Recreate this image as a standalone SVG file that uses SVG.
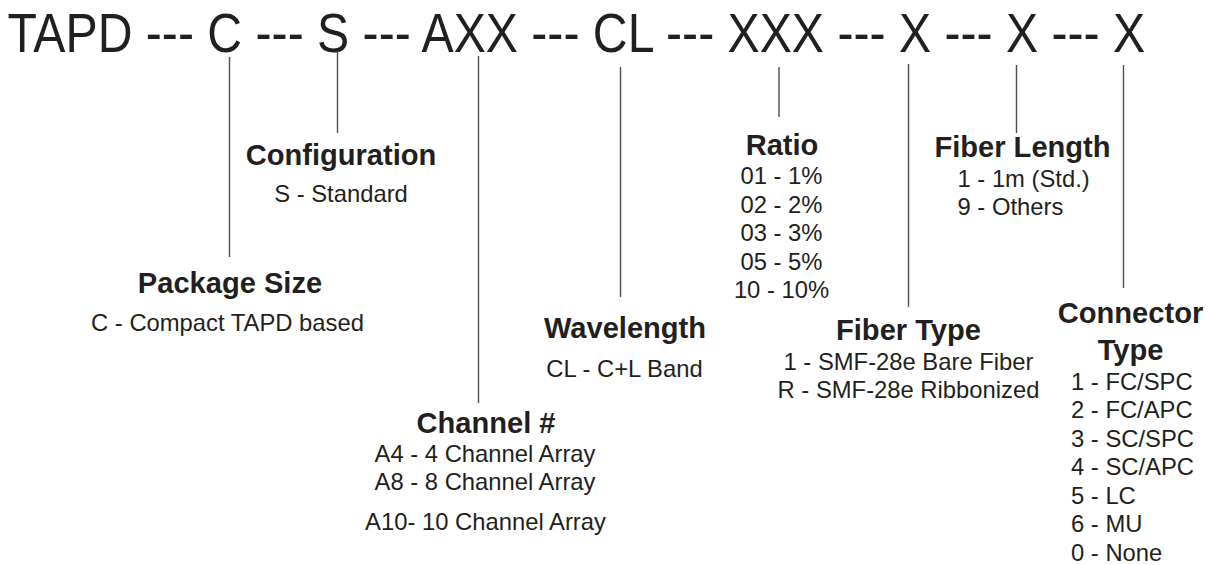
<svg xmlns="http://www.w3.org/2000/svg" width="1210" height="565" viewBox="0 0 1210 565">
<style>
text{font-family:"Liberation Sans",Arial,Helvetica,sans-serif;fill:#231f20}
.t{font-size:48.2px}
.h{font-size:29.1px;font-weight:bold;text-anchor:middle}
.v{font-size:23.8px}
.m{text-anchor:middle}
.c line{stroke:#4d4d4f;stroke-width:1.4}
</style>
<rect width="1210" height="565" fill="#ffffff"/>
<g id="title">
<text class="t" x="7.5" y="0" transform="translate(0,52) scale(1,1.163)">TAPD --- C --- S --- AXX --- CL --- XXX --- X --- X --- X</text>
</g>
<g class="c" id="connectors">
<line x1="229.5" y1="57" x2="229.5" y2="257"/>
<line x1="337.5" y1="51" x2="337.5" y2="133"/>
<line x1="478.5" y1="56" x2="478.5" y2="403"/>
<line x1="620.5" y1="67" x2="620.5" y2="297"/>
<line x1="779" y1="67" x2="779" y2="117"/>
<line x1="908.5" y1="64" x2="908.5" y2="307"/>
<line x1="1016.5" y1="65" x2="1016.5" y2="133"/>
<line x1="1123.5" y1="65" x2="1123.5" y2="288"/>
</g>
<g id="configuration">
<text class="h" x="341" y="165">Configuration</text>
<text class="v m" x="341" y="202">S - Standard</text>
</g>
<g id="package-size">
<text class="h" x="230" y="293">Package Size</text>
<text class="v m" x="227.5" y="331">C - Compact TAPD based</text>
</g>
<g id="channel">
<text class="h" x="486" y="433">Channel #</text>
<text class="v m" x="485" y="462">A4 - 4 Channel Array</text>
<text class="v m" x="485" y="490">A8 - 8 Channel Array</text>
<text class="v m" x="485.5" y="529.5">A10- 10 Channel Array</text>
</g>
<g id="wavelength">
<text class="h" x="625" y="338">Wavelength</text>
<text class="v m" x="624.5" y="377">CL - C+L Band</text>
</g>
<g id="ratio">
<text class="h" x="782" y="154.5">Ratio</text>
<text class="v m" x="781.5" y="184.3">01 - 1%</text>
<text class="v m" x="781.5" y="212.8">02 - 2%</text>
<text class="v m" x="781.5" y="241.3">03 - 3%</text>
<text class="v m" x="781.5" y="269.8">05 - 5%</text>
<text class="v m" x="781.5" y="298.3">10 - 10%</text>
</g>
<g id="fiber-type">
<text class="h" x="908.5" y="340">Fiber Type</text>
<text class="v m" x="908.5" y="369.5">1 - SMF-28e Bare Fiber</text>
<text class="v m" x="908.5" y="398">R - SMF-28e Ribbonized</text>
</g>
<g id="fiber-length">
<text class="h" x="1022.5" y="157">Fiber Length</text>
<text class="v" x="957.5" y="186.5">1 - 1m (Std.)</text>
<text class="v" x="957.5" y="215">9 - Others</text>
</g>
<g id="connector-type">
<text class="h" x="1130.5" y="323">Connector</text>
<text class="h" x="1130.5" y="360">Type</text>
<text class="v" x="1071" y="389.5">1 - FC/SPC</text>
<text class="v" x="1071" y="418">2 - FC/APC</text>
<text class="v" x="1071" y="446.5">3 - SC/SPC</text>
<text class="v" x="1071" y="475">4 - SC/APC</text>
<text class="v" x="1071" y="503.5">5 - LC</text>
<text class="v" x="1071" y="532">6 - MU</text>
<text class="v" x="1071" y="560.5">0 - None</text>
</g>
</svg>
